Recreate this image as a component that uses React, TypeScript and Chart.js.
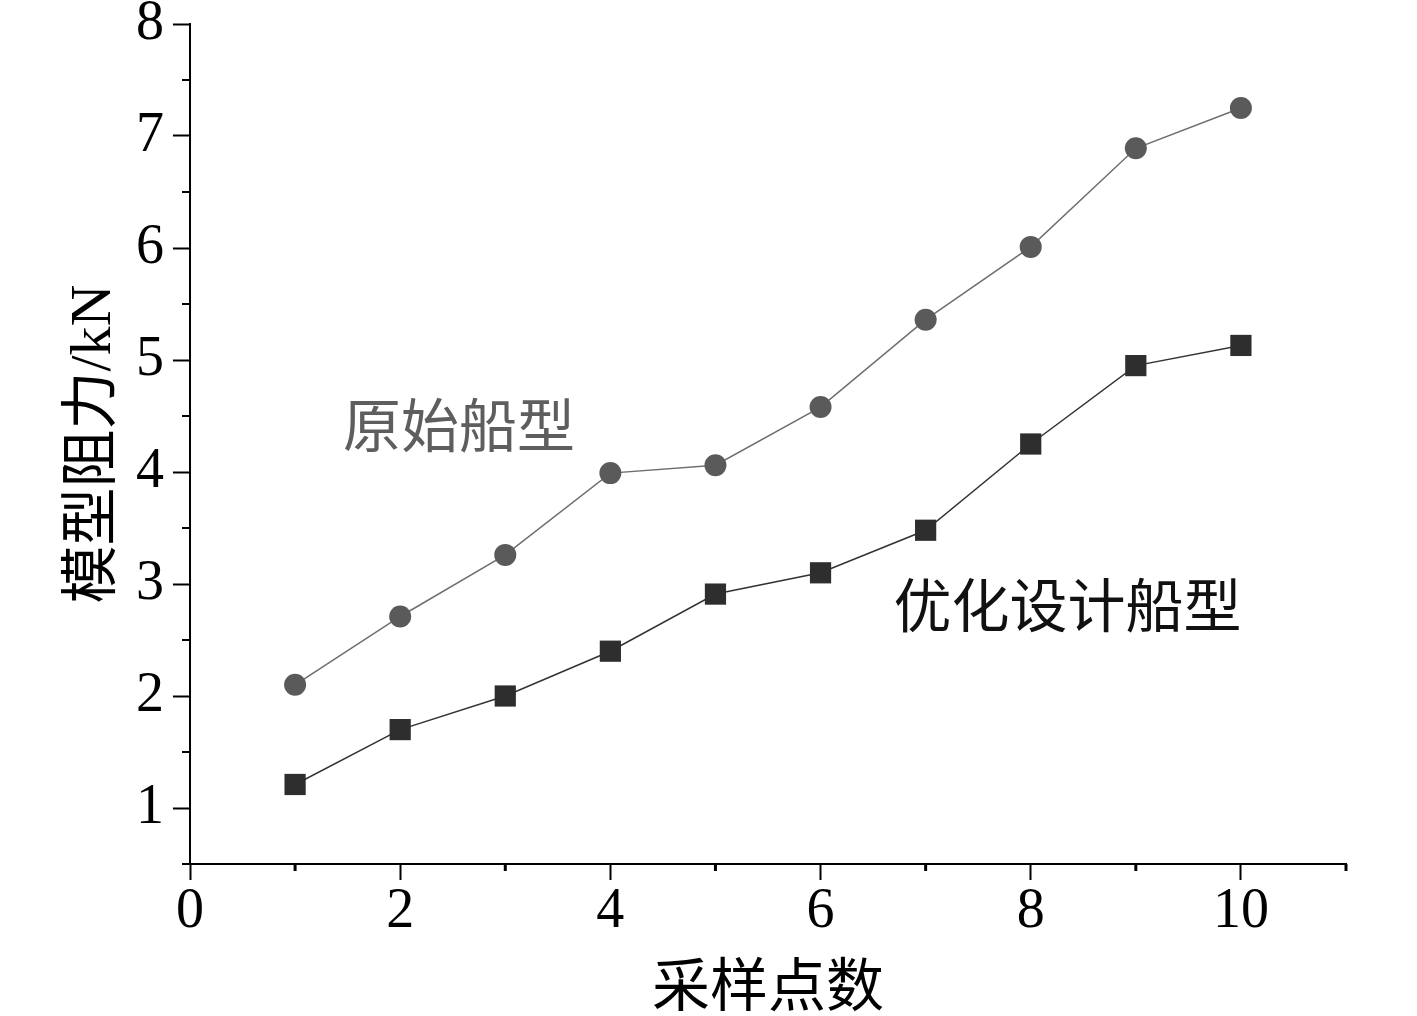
import React, { useEffect, useRef } from "react";
import { Chart, registerables } from "chart.js";

Chart.register(...registerables);

// ---- data ----
const samplePoints = [1, 2, 3, 4, 5, 6, 7, 8, 9, 10];
const originalHull = [2.1, 2.71, 3.26, 3.99, 4.06, 4.58, 5.36, 6.01, 6.89, 7.25];
const optimizedHull = [1.21, 1.7, 2.0, 2.4, 2.91, 3.1, 3.48, 4.25, 4.95, 5.13];
const seriesNames = ["原始船型", "优化设计船型"];
const xTitle = "采样点数";
const yTitle = "模型阻力/kN";
const xRange = [0, 11];
const yRange = [0.5, 8];
// annotation anchor positions in data units
const labelAnchors = [
  [2.56, 4.36],
  [8.35, 2.75],
];

const NUM_FONT = "'Liberation Serif', 'Times New Roman', serif";
const CJK_FONT = "'Liberation Serif', 'Noto Sans CJK SC', serif";

const minorTicksPlugin = {
  id: "minorTicksAndLabels",
  afterDraw(chart: any) {
    const ctx = chart.ctx;
    const xs = chart.scales.x;
    const ys = chart.scales.y;
    ctx.save();
    ctx.strokeStyle = "#000";
    // x minor ticks (odd values)
    ctx.lineWidth = 3;
    xs.ticks.forEach((t: any) => {
      if (Math.round(t.value) % 2 !== 0) {
        const px = xs.getPixelForValue(t.value);
        ctx.beginPath();
        ctx.moveTo(px, ys.bottom);
        ctx.lineTo(px, ys.bottom + 7);
        ctx.stroke();
      }
    });
    // y minor ticks (half values)
    ctx.lineWidth = 2;
    ys.ticks.forEach((t: any) => {
      if (!Number.isInteger(t.value)) {
        const py = ys.getPixelForValue(t.value);
        ctx.beginPath();
        ctx.moveTo(xs.left - 8, py);
        ctx.lineTo(xs.left, py);
        ctx.stroke();
      }
    });
    // series annotations
    ctx.font = `58px ${CJK_FONT}`;
    ctx.textAlign = "center";
    ctx.textBaseline = "middle";
    const colors = ["#5e5e5e", "#111111"];
    seriesNames.forEach((name, i) => {
      ctx.fillStyle = colors[i];
      ctx.fillText(
        name,
        xs.getPixelForValue(labelAnchors[i][0]),
        ys.getPixelForValue(labelAnchors[i][1])
      );
    });
    ctx.restore();
  },
};

export default function App() {
  const canvasRef = useRef<HTMLCanvasElement | null>(null);

  useEffect(() => {
    const canvas = canvasRef.current;
    if (!canvas) return;
    const chart = new Chart(canvas, {
      type: "line",
      data: {
        datasets: [
          {
            label: seriesNames[0],
            data: samplePoints.map((x, i) => ({ x, y: originalHull[i] })),
            borderColor: "#6e6e6e",
            backgroundColor: "#5a5a5a",
            borderWidth: 1.5,
            pointStyle: "circle",
            pointRadius: 11,
            pointBorderWidth: 0,
            pointBackgroundColor: "#5a5a5a",
            tension: 0,
          },
          {
            label: seriesNames[1],
            data: samplePoints.map((x, i) => ({ x, y: optimizedHull[i] })),
            borderColor: "#333333",
            backgroundColor: "#2e2e2e",
            borderWidth: 1.5,
            pointStyle: "rect",
            pointRadius: 15,
            pointBorderWidth: 0,
            pointBackgroundColor: "#2e2e2e",
            tension: 0,
          },
        ],
      },
      options: {
        responsive: false,
        animation: false,
        events: [],
        layout: { padding: { left: 66, top: 24, right: 71, bottom: 0 } },
        plugins: {
          legend: { display: false },
          tooltip: { enabled: false },
        },
        scales: {
          x: {
            type: "linear",
            min: xRange[0],
            max: xRange[1],
            border: { display: true, color: "#000", width: 2 },
            grid: {
              display: true,
              drawOnChartArea: false,
              drawTicks: true,
              tickLength: 16,
              tickWidth: 2,
              tickColor: (c: any) =>
                c.tick && Math.round(c.tick.value) % 2 === 0 ? "#000" : "rgba(0,0,0,0)",
            },
            ticks: {
              stepSize: 1,
              autoSkip: false,
              maxRotation: 0,
              padding: 4,
              color: "#000",
              font: { family: NUM_FONT, size: 56, lineHeight: 1 },
              callback: (v: any) => (Math.round(v) % 2 === 0 ? String(v) : ""),
            },
            title: {
              display: true,
              text: xTitle,
              color: "#000",
              font: { family: CJK_FONT, size: 58, lineHeight: 1 },
              padding: { top: 0, bottom: -4 },
            },
            afterFit: (s: any) => {
              s.height = 1016 - 864;
            },
          },
          y: {
            type: "linear",
            min: yRange[0],
            max: yRange[1],
            border: { display: true, color: "#000", width: 2 },
            grid: {
              display: true,
              drawOnChartArea: false,
              drawTicks: true,
              tickLength: 17,
              tickWidth: 2,
              tickColor: (c: any) =>
                c.tick && Number.isInteger(c.tick.value) ? "#000" : "rgba(0,0,0,0)",
            },
            ticks: {
              stepSize: 0.5,
              autoSkip: false,
              padding: 9,
              color: "#000",
              font: { family: NUM_FONT, size: 56, lineHeight: 0.5 },
              callback: (v: any) => (Number.isInteger(v) ? String(v) : ""),
            },
            title: {
              display: true,
              text: yTitle,
              color: "#000",
              font: { family: CJK_FONT, size: 58, lineHeight: 1 },
              padding: { top: 0, bottom: 0 },
            },
            afterFit: (s: any) => {
              s.width = 190 - 66;
            },
          },
        },
      },
      plugins: [minorTicksPlugin],
    });
    return () => chart.destroy();
  }, []);

  return (
    <div style={{ position: "absolute", left: 0, top: 0, width: 1417, height: 1016, background: "#fff" }}>
      <canvas ref={canvasRef} width={1417} height={1016} style={{ display: "block" }} />
    </div>
  );
}
